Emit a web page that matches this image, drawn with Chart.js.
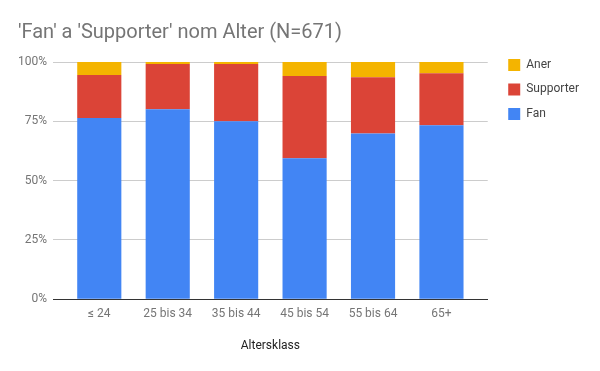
<!DOCTYPE html>
<html>
<head>
<meta charset="utf-8">
<script src="https://cdn.jsdelivr.net/npm/chart.js@4"></script>
<style>
  html, body { margin: 0; padding: 0; background: #fff; }
  #wrap { width: 600px; height: 371px; }
</style>
</head>
<body>
<div id="wrap"><canvas id="chart"></canvas></div>
<script>
// age classes on the x axis
const ageClasses = ['≤ 24', '25 bis 34', '35 bis 44', '45 bis 54', '55 bis 64', '65+'];

// shares in percent
const fanValues = [76.4, 80.1, 75.0, 59.4, 69.9, 73.3];
const supporterValues = [18.1, 19.1, 24.2, 34.7, 23.7, 22.0];
const anerValues = [5.5, 0.8, 0.8, 5.9, 6.4, 4.7];

const yTicks = [0, 25, 50, 75, 100];

// extra room left/right of the bars, in category units (the baseline runs past the bars)
const xSidePad = 0.176;

// widen legend box so there's a bigger gap between plot and legend,
// and nudge the title a bit to the right
const boxTweaks = {
  id: 'boxTweaks',
  beforeInit(chart) {
    const lg = chart.legend;
    if (!lg) return;
    const fit = lg.fit;
    lg.fit = function() {
      fit.call(this);
      this.width += 8;
    };
  },
  afterLayout(chart) {
    if (chart.legend) chart.legend.left += 8;
    if (chart.titleBlock) {
      chart.titleBlock.left += 6;
      chart.titleBlock.right += 6;
    }
  }
};

const ctx = document.getElementById('chart').getContext('2d');

new Chart(ctx, {
  type: 'bar',
  data: {
    labels: ageClasses,
    datasets: [
      { label: 'Fan', data: fanValues, backgroundColor: '#4285F4' },
      { label: 'Supporter', data: supporterValues, backgroundColor: '#DB4437' },
      { label: 'Aner', data: anerValues, backgroundColor: '#F4B400' }
    ]
  },
  plugins: [boxTweaks],
  options: {
    responsive: true,
    maintainAspectRatio: false,
    animation: false,
    datasets: {
      bar: { barPercentage: 0.645, categoryPercentage: 1 }
    },
    layout: { padding: { left: 12, right: 11, bottom: 14 } },
    plugins: {
      title: {
        display: true,
        text: "'Fan' a 'Supporter' nom Alter (N=671)",
        align: 'start',
        color: '#757575',
        font: { family: 'Roboto', size: 20, weight: 'normal' },
        padding: { top: 21, bottom: 17 }
      },
      legend: {
        position: 'right',
        align: 'start',
        reverse: true,
        title: {
          display: true,
          text: ' ',
          font: { size: 12 },
          padding: { top: 32, bottom: 0 }
        },
        labels: {
          boxWidth: 12,
          boxHeight: 12,
          padding: 12.5,
          color: '#444',
          font: { family: 'Roboto', size: 12 }
        }
      },
      tooltip: { enabled: false }
    },
    scales: {
      x: {
        stacked: true,
        afterBuildTicks: axis => {
          axis._startValue -= xSidePad;
          axis._valueRange += 2 * xSidePad;
        },
        grid: { display: false, drawTicks: false },
        border: { color: '#333' },
        ticks: {
          color: '#757575',
          font: { family: 'Roboto', size: 12 },
          padding: 8
        },
        title: {
          display: true,
          text: 'Altersklass',
          color: '#222',
          font: { family: 'Roboto', size: 12 },
          padding: { top: 9 }
        }
      },
      y: {
        stacked: true,
        min: 0,
        max: 100,
        afterBuildTicks: axis => { axis.ticks = yTicks.map(v => ({ value: v })); },
        grid: { color: '#ccc', drawTicks: false },
        border: { display: false },
        ticks: {
          color: '#757575',
          font: { family: 'Roboto', size: 12 },
          padding: 6,
          callback: v => v + '%'
        }
      }
    }
  }
});
</script>
</body>
</html>
